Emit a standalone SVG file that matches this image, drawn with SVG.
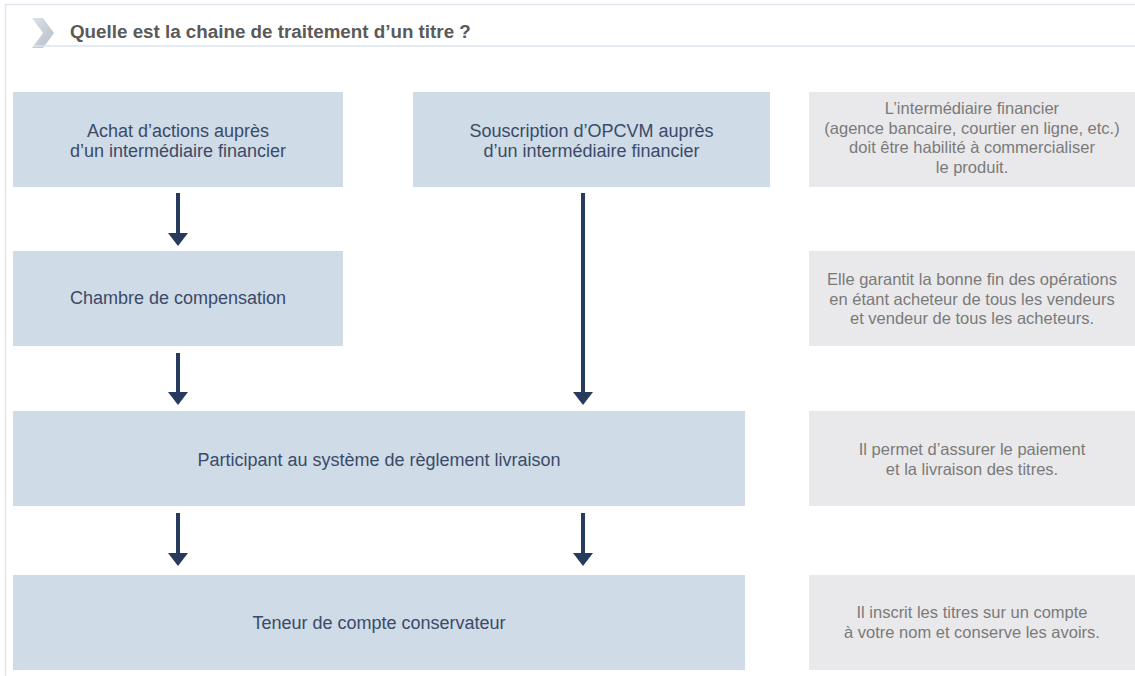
<svg xmlns="http://www.w3.org/2000/svg" width="1135" height="676" viewBox="0 0 1135 676">
<defs>
<linearGradient id="chev" x1="0" y1="0" x2="1" y2="1">
<stop offset="0" stop-color="#dde2e8"/>
<stop offset="1" stop-color="#b4bdc7"/>
</linearGradient>
<marker id="ah" viewBox="0 -10 13 20" refX="0" refY="0" markerWidth="13" markerHeight="20" markerUnits="userSpaceOnUse" orient="auto">
<path d="M0,-10 L13,0 L0,10 z" fill="#263b5d"/>
</marker>
<style>
.node{fill:#cfdbe7}
.note{fill:#e9e9eb}
.nt{font-family:"Liberation Sans",Arial,sans-serif;font-size:18px;fill:#3b4a68;text-anchor:middle}
.ct{font-family:"Liberation Sans",Arial,sans-serif;font-size:16.5px;fill:#7a7a7a;text-anchor:middle}
.arr{stroke:#263b5d;stroke-width:4;fill:none;marker-end:url(#ah)}
</style>
</defs>
<rect x="0" y="0" width="1135" height="676" fill="#ffffff"/>
<g id="frame">
<line x1="5" y1="4.5" x2="1135" y2="4.5" stroke="#dfe6ee" stroke-width="1.5"/>
<line x1="5.5" y1="4" x2="5.5" y2="676" stroke="#dfe6ee" stroke-width="1.5"/>
</g>
<g id="header">
<polygon points="32,18 43,18 54,33 43,48 32,48 43,33" fill="url(#chev)"/>
<line x1="33" y1="46" x2="1135" y2="46" stroke="#dde5ee" stroke-width="1.5"/>
<text x="70" y="38" font-family="'Liberation Sans',Arial,sans-serif" font-size="18.8" font-weight="bold" fill="#5a5a5a">Quelle est la chaine de traitement d’un titre ?</text>
</g>
<g id="n-achat">
<rect class="node" x="13" y="92" width="330" height="95"/>
<text class="nt" x="178" y="137">Achat d’actions auprès</text>
<text class="nt" x="178" y="157">d’un intermédiaire financier</text>
</g>
<g id="n-souscription">
<rect class="node" x="413" y="92" width="357" height="95"/>
<text class="nt" x="591.5" y="137">Souscription d’OPCVM auprès</text>
<text class="nt" x="591.5" y="157">d’un intermédiaire financier</text>
</g>
<g id="n-chambre">
<rect class="node" x="13" y="251" width="330" height="95"/>
<text class="nt" x="178" y="304">Chambre de compensation</text>
</g>
<g id="n-participant">
<rect class="node" x="13" y="411" width="732" height="95"/>
<text class="nt" x="379" y="466">Participant au système de règlement livraison</text>
</g>
<g id="n-teneur">
<rect class="node" x="13" y="575" width="732" height="95"/>
<text class="nt" x="379" y="629">Teneur de compte conservateur</text>
</g>
<g id="c-1">
<rect class="note" x="809" y="92" width="326" height="95"/>
<text class="ct" x="972" y="114">L’intermédiaire financier</text>
<text class="ct" x="972" y="134">(agence bancaire, courtier en ligne, etc.)</text>
<text class="ct" x="972" y="153">doit être habilité à commercialiser</text>
<text class="ct" x="972" y="173">le produit.</text>
</g>
<g id="c-2">
<rect class="note" x="809" y="251" width="326" height="95"/>
<text class="ct" x="972" y="285">Elle garantit la bonne fin des opérations</text>
<text class="ct" x="972" y="305">en étant acheteur de tous les vendeurs</text>
<text class="ct" x="972" y="324">et vendeur de tous les acheteurs.</text>
</g>
<g id="c-3">
<rect class="note" x="809" y="411" width="326" height="95"/>
<text class="ct" x="972" y="455">Il permet d’assurer le paiement</text>
<text class="ct" x="972" y="475">et la livraison des titres.</text>
</g>
<g id="c-4">
<rect class="note" x="809" y="575" width="326" height="95"/>
<text class="ct" x="972" y="618">Il inscrit les titres sur un compte</text>
<text class="ct" x="972" y="638">à votre nom et conserve les avoirs.</text>
</g>
<g id="connectors">
<line class="arr" x1="178" y1="193" x2="178" y2="233"/>
<line class="arr" x1="178" y1="353" x2="178" y2="392"/>
<line class="arr" x1="583" y1="193" x2="583" y2="392"/>
<line class="arr" x1="178" y1="513" x2="178" y2="553"/>
<line class="arr" x1="583" y1="513" x2="583" y2="553"/>
</g>
</svg>
